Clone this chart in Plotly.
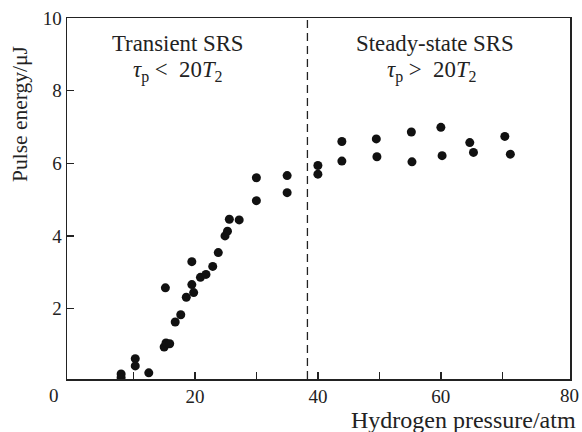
import plotly.graph_objects as go

# Data
pressure_atm = [8.0, 8.0, 10.3, 10.3, 12.5, 15.2, 15.0, 15.3, 15.9, 16.8,
                17.7, 18.6, 19.5, 19.5, 19.8, 20.9, 21.8, 22.9, 23.8, 24.9,
                25.3, 25.6, 27.2, 30.0, 30.0, 35.0, 35.0, 40.0, 40.0, 43.9,
                43.9, 49.5, 49.6, 55.2, 55.3, 60.0, 60.2, 64.7, 65.3, 70.4,
                71.3]
pulse_energy_uJ = [0.20, 0.10, 0.62, 0.42, 0.23, 2.57, 0.94, 1.05, 1.03, 1.63,
                   1.83, 2.31, 3.29, 2.66, 2.44, 2.86, 2.94, 3.16, 3.54, 4.00,
                   4.13, 4.46, 4.44, 4.97, 5.60, 5.66, 5.19, 5.94, 5.70, 6.60,
                   6.06, 6.67, 6.18, 6.86, 6.04, 6.99, 6.21, 6.57, 6.30, 6.74,
                   6.25]
divider_pressure = 38.3

x_tickvals = [10, 20, 30, 40, 50, 60, 70]
x_ticktext = ["", "20", "", "40", "", "60", ""]
y_tickvals = [2, 4, 6, 8, 10]
y_ticktext = ["2", "4", "6", "8", "10"]

FONT = "Liberation Serif"
INK = "#222222"

fig = go.Figure()
fig.add_trace(go.Scatter(
    x=pressure_atm, y=pulse_energy_uJ, mode="markers",
    marker=dict(size=9, color="#111111", line=dict(width=0)),
    showlegend=False, cliponaxis=True,
))

fig.add_shape(type="line", xref="x", yref="paper",
              x0=divider_pressure, x1=divider_pressure, y0=0, y1=1,
              line=dict(color=INK, width=1.3, dash="8px,5px"))

fig.update_layout(
    width=582, height=432,
    margin=dict(l=67, r=12, t=18, b=53, autoexpand=False),
    paper_bgcolor="white", plot_bgcolor="white",
    font=dict(family=FONT, size=19, color=INK),
    xaxis=dict(range=[-0.8, 81.0], tickvals=x_tickvals, ticktext=x_ticktext,
               ticks="inside", ticklen=7, tickwidth=1.3, tickcolor=INK,
               showline=True, linecolor=INK, linewidth=1.5, mirror=True,
               showgrid=False, zeroline=False, fixedrange=True, automargin=False),
    yaxis=dict(range=[0.06, 10.0], tickvals=y_tickvals, ticktext=y_ticktext,
               ticks="inside", ticklen=7, tickwidth=1.3, tickcolor=INK,
               showline=True, linecolor=INK, linewidth=1.5, mirror=True,
               showgrid=False, zeroline=False, fixedrange=True, automargin=False),
)

ann_font = dict(family=FONT, size=22.8, color=INK)
tick_font = dict(family=FONT, size=19, color=INK)
X0, X1, Y0, Y1 = 67.0, 570.0, 18.0, 379.0
def px(xp):
    return (xp - X0) / (X1 - X0)
def py(yp):
    return (Y1 - yp) / (Y1 - Y0)

sp = "&nbsp;"
annotations = [
    dict(text="0", x=px(54), y=py(395), font=tick_font),
    dict(text="80", x=px(569.5), y=py(395), font=tick_font),
    dict(text="Transient SRS", x=px(177.5), y=py(44), font=ann_font),
    dict(text=f"<i>τ</i><sub>p</sub> &lt;{sp} 20<i>T</i><sub>2</sub>", x=px(177.5), y=py(71), font=ann_font),
    dict(text="Steady-state SRS", x=px(435), y=py(44), font=ann_font),
    dict(text=f"<i>τ</i><sub>p</sub> &gt;{sp} 20<i>T</i><sub>2</sub>", x=px(432), y=py(71), font=ann_font),
    dict(text="Hydrogen pressure/atm", x=px(578), y=py(420), xanchor="right",
         font=dict(family=FONT, size=24, color=INK)),
    dict(text="Pulse energy/μJ", x=px(20), y=py(114), textangle=-90,
         font=dict(family=FONT, size=21.5, color=INK)),
]
for a in annotations:
    a.setdefault("xanchor", "center")
    a.setdefault("yanchor", "middle")
    fig.add_annotation(xref="paper", yref="paper", showarrow=False, **a)

fig.write_html(
    "out.html",
    config={"displayModeBar": False, "staticPlot": True},
    post_script="document.body.style.margin='0px';document.body.style.overflow='hidden';",
)
